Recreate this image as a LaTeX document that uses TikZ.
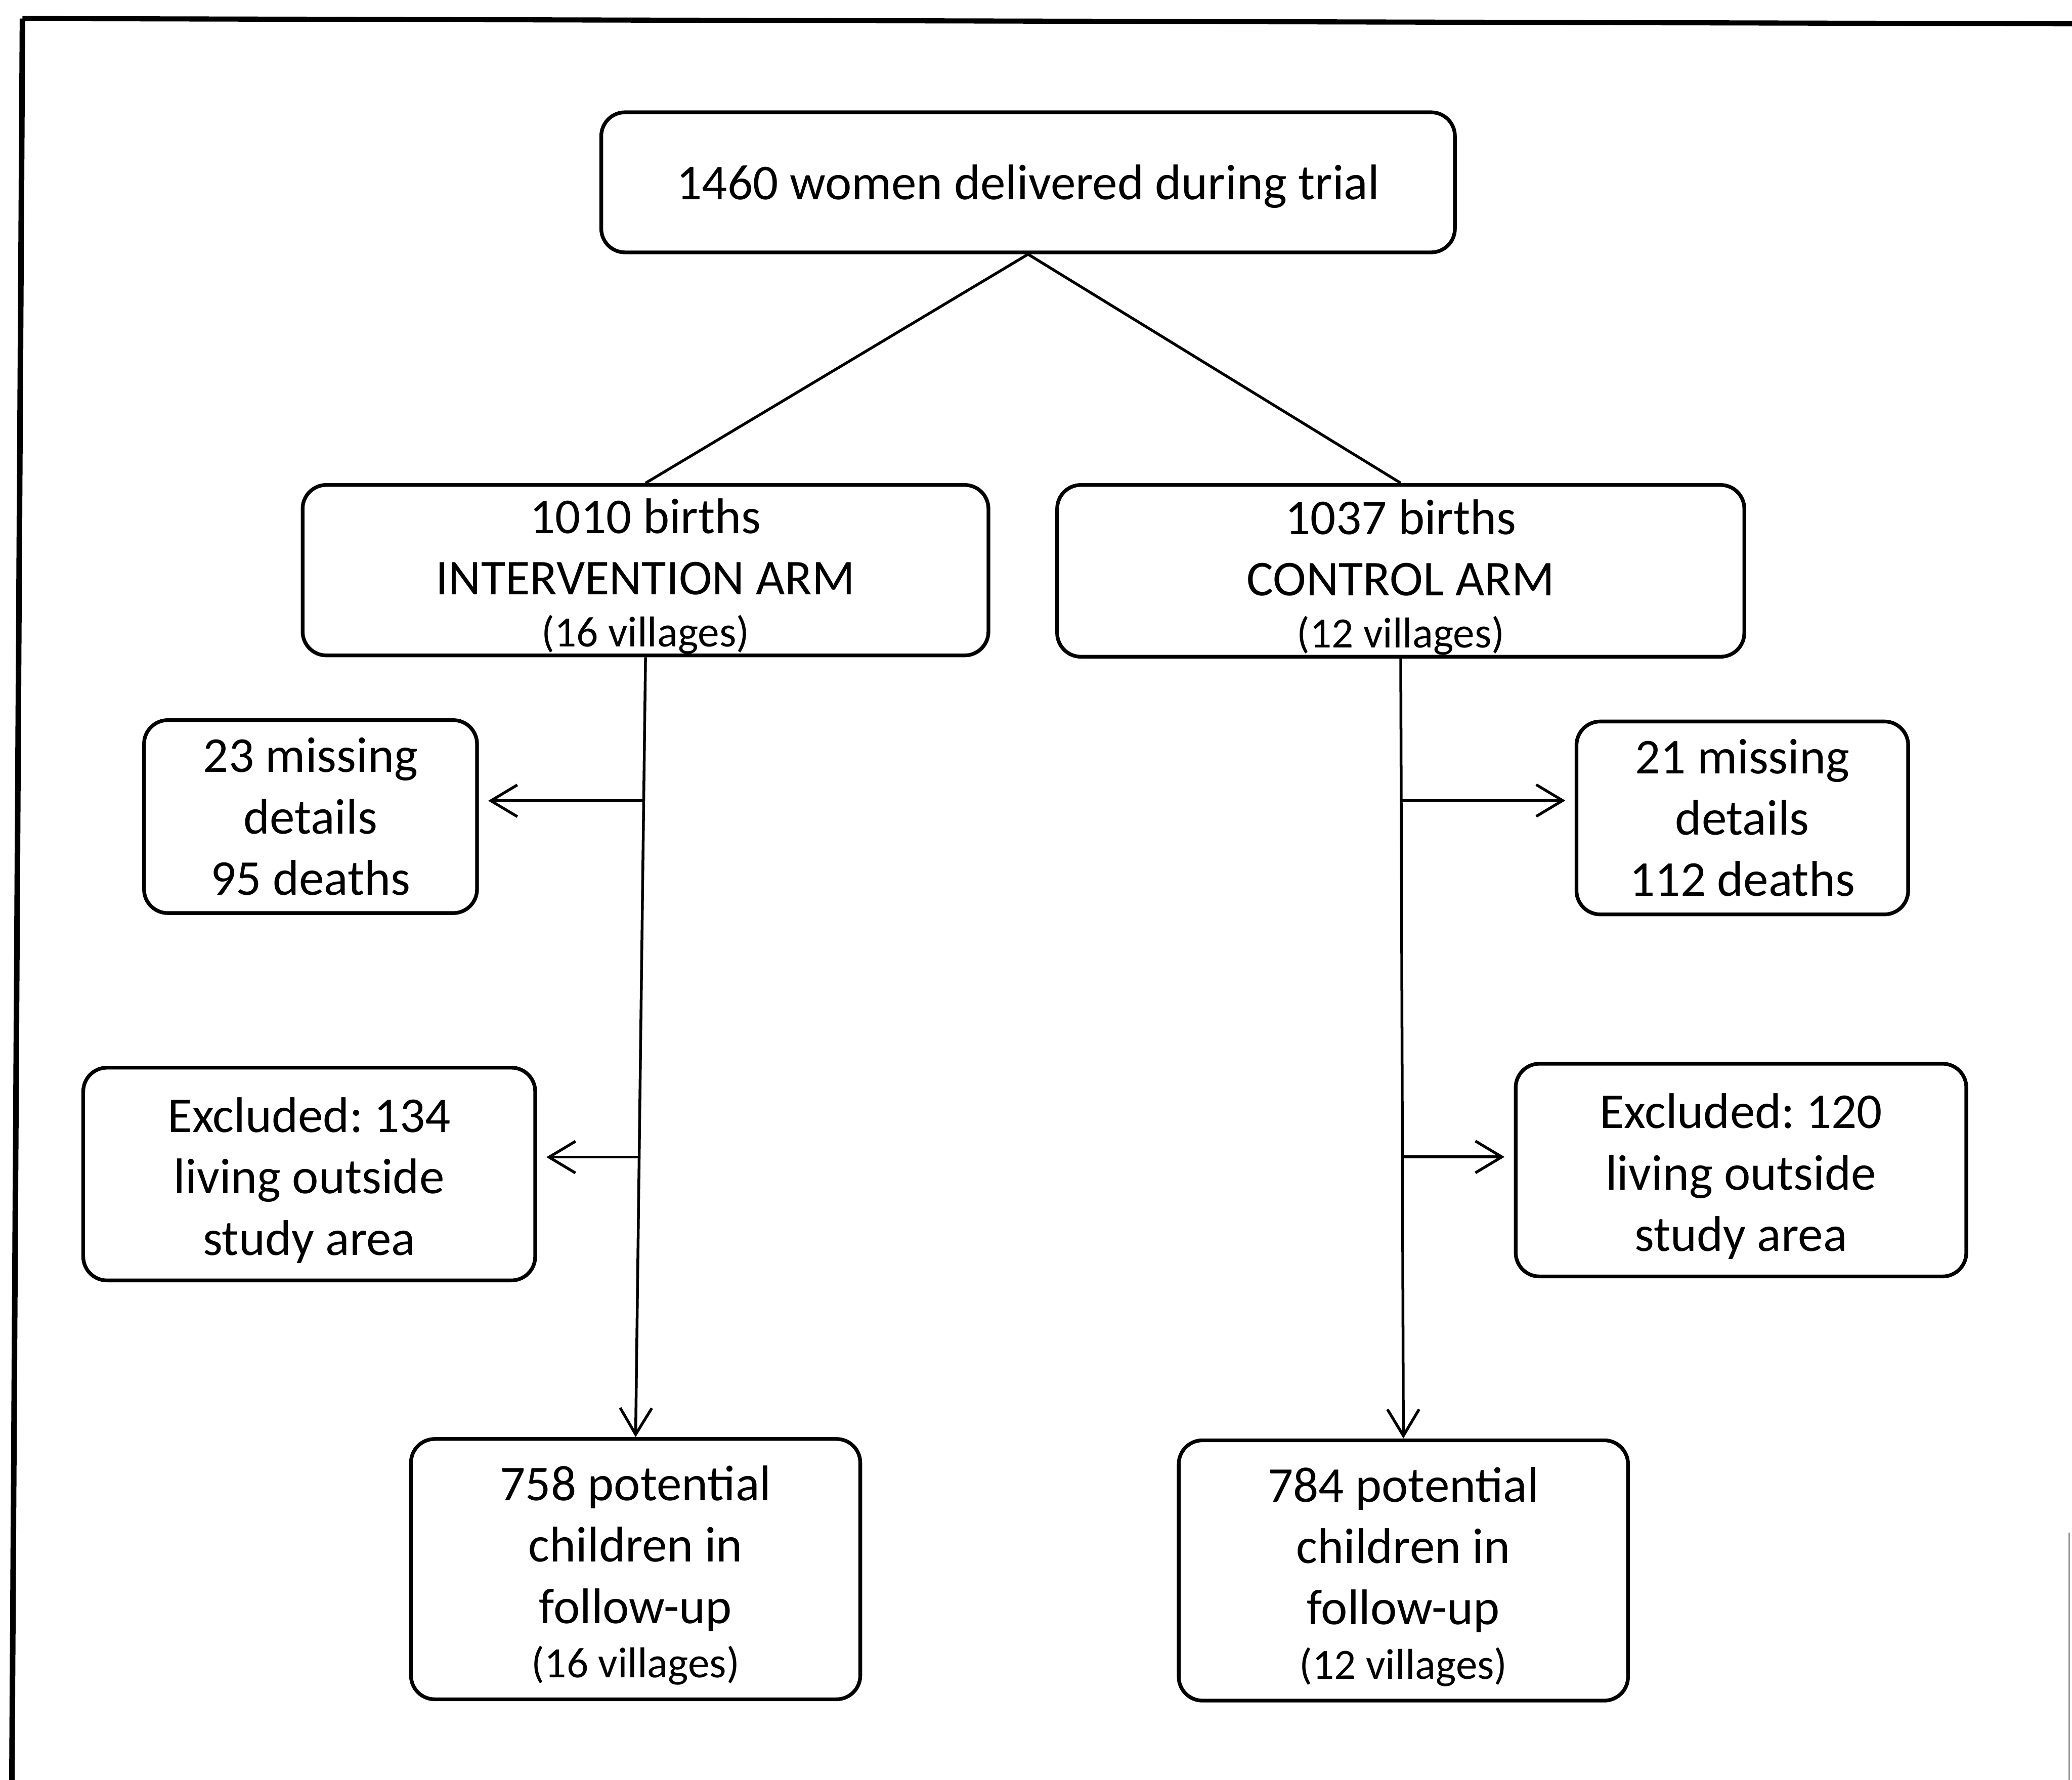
\documentclass[tikz,border=0pt]{standalone}
\usepackage{fontspec}
\setmainfont{Carlito}
\frenchspacing
\usetikzlibrary{arrows.meta,calc}
\tikzset{
  box/.style={draw,rounded corners=1.8mm,line width=0.8pt,align=center,inner sep=0pt,
    font=\fontsize{10.8}{13.2}\selectfont},
  link/.style={line width=0.6pt},
  downarrow/.style={link,-{Straight Barb[length=2mm,width=2.4mm,line width=0.6pt]}},
  sidearrow/.style={downarrow,shorten >=2pt}
}
\newcommand{\vill}{\fontsize{9.3}{11}\selectfont}
\newcommand{\lift}[1][10.2pt]{\rule{0pt}{#1}}

\begin{document}
\begin{tikzpicture}
    \useasboundingbox (0,0) rectangle (15.68,-13.47);
    % frame of the scan, only top and left side survive
    \draw[line width=1.1pt] (0.17,-0.14) -- (15.68,-0.18);
    \draw[line width=1.2pt] (0.17,-0.14) -- (0.09,-13.47);
    \draw[line width=0.3pt,black!40] (15.66,-11.6) -- (15.66,-13.47);

    \node[box,minimum width=6.46cm,minimum height=1.06cm] (top) at (7.78,-1.38)
        {\lift[9.3pt]1460 women delivered during trial};

    \node[box,minimum width=5.19cm,minimum height=1.29cm] (intarm) at (4.885,-4.315)
        {\lift1010 births\\INTERVENTION ARM\\[-2pt]{\vill (16 villages)}};
    \node[box,minimum width=5.20cm,minimum height=1.30cm] (ctlarm) at (10.60,-4.32)
        {\lift1037 births\\CONTROL ARM\\[-2pt]{\vill (12 villages)}};

    \node[box,minimum width=2.52cm,minimum height=1.46cm] (intmiss) at (2.35,-6.18)
        {23 missing\\details\\95 deaths};
    \node[box,minimum width=2.51cm,minimum height=1.46cm] (ctlmiss) at (13.185,-6.19)
        {21 missing\\details\\112 deaths};

    \node[box,minimum width=3.42cm,minimum height=1.61cm] (intexcl) at (2.34,-8.885)
        {\lift Excluded: 134\\living outside\\study area};
    \node[box,minimum width=3.41cm,minimum height=1.61cm] (ctlexcl) at (13.175,-8.855)
        {\lift Excluded: 120\\living outside\\study area};

    \node[box,minimum width=3.40cm,minimum height=1.97cm] (intfup) at (4.81,-11.875)
        {\lift758 potential\\children in\\follow-up\\[-1.5pt]{\vill (16 villages)}};
    \node[box,minimum width=3.40cm,minimum height=1.97cm] (ctlfup) at (10.62,-11.885)
        {\lift784 potential\\children in\\follow-up\\[-1.5pt]{\vill (12 villages)}};

    % split
    \draw[link] (intarm.north) -- (top.south) -- (ctlarm.north);

    % intervention arm
    \coordinate (intb1) at ($(intarm.south)!0.184!(intfup.north)$);
    \coordinate (intb2) at ($(intarm.south)!0.641!(intfup.north)$);
    \draw[downarrow] (intarm.south) -- (intfup.north);
    \draw[sidearrow] (intb1) -- (intb1 -| intmiss.east);
    \draw[sidearrow] (intb2) -- (intb2 -| intexcl.east);

    % control arm
    \coordinate (ctlb1) at ($(ctlarm.south)!0.182!(ctlfup.north)$);
    \coordinate (ctlb2) at ($(ctlarm.south)!0.639!(ctlfup.north)$);
    \draw[downarrow] (ctlarm.south) -- (ctlfup.north);
    \draw[sidearrow] (ctlb1) -- (ctlb1 -| ctlmiss.west);
    \draw[sidearrow] (ctlb2) -- (ctlb2 -| ctlexcl.west);
\end{tikzpicture}
\end{document}
